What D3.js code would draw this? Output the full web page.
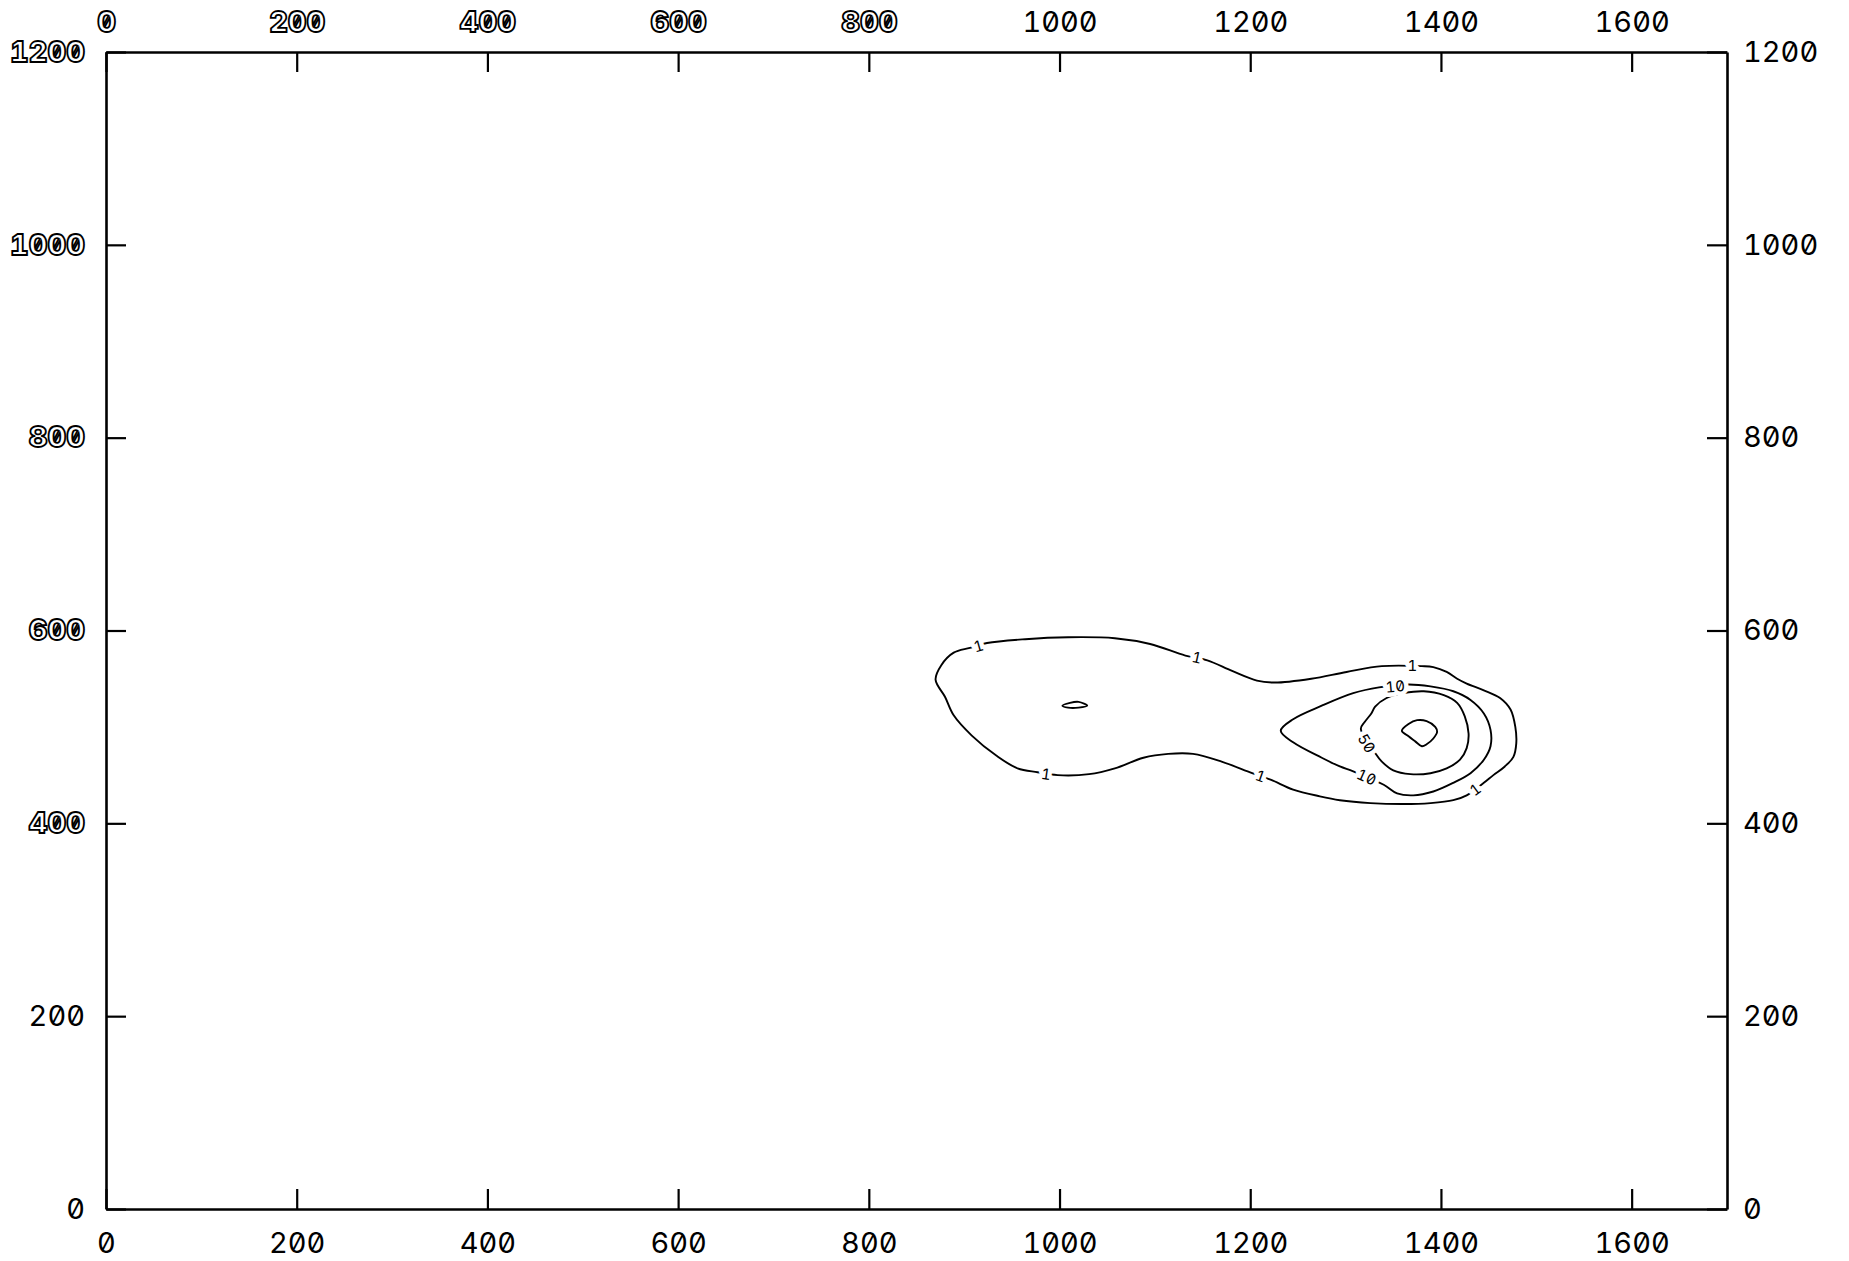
<!DOCTYPE html>
<html lang="ko">
<head>
<meta charset="utf-8">
<title>contour plot</title>
<script src="https://cdn.jsdelivr.net/npm/d3@7"></script>
<style>
  body { margin: 0; background: #fff; }
  svg { display: block; background: #fff; }
</style>
</head>
<body>
<svg></svg>
<script>
"use strict";

// 축 범위와 눈금값
const xDomain = [0, 1700];
const yDomain = [0, 1200];
const xTicks = [0, 200, 400, 600, 800, 1000, 1200, 1400, 1600];
const yTicks = [0, 200, 400, 600, 800, 1000, 1200];

// 레벨 1 등고선 (바깥쪽 큰 윤곽), 그림에서 읽은 [x, y] 값
const contour1 = [
  [924, 587], [964, 591], [1009, 593], [1058, 592], [1095, 586], [1132, 574],
  [1155, 569], [1181, 558], [1207, 548], [1226, 546], [1264, 550], [1301, 557],
  [1338, 563], [1380, 563], [1392, 562], [1406, 557], [1417, 550], [1427, 545],
  [1445, 538], [1462, 530], [1473, 518], [1478, 500], [1479, 483], [1476, 469],
  [1467, 459], [1455, 450], [1445, 442], [1427, 429], [1413, 424], [1389, 421],
  [1361, 420], [1326, 421], [1294, 424], [1273, 428], [1245, 435], [1222, 445],
  [1202, 452], [1170, 464], [1140, 472], [1114, 472], [1088, 468], [1058, 457],
  [1031, 451], [998, 450], [977, 453], [956, 457], [934, 470], [908, 491],
  [889, 512], [880, 531], [870, 549], [876, 564], [889, 577], [906, 582]
];

// 왼쪽 안에 있는 작은 레벨 1 섬
const contour1Island = [
  [1003, 522], [1011, 525], [1020, 526], [1029, 522], [1020, 520], [1009, 520]
];

// 레벨 10 등고선
const contour10 = [
  [1366, 544], [1389, 542], [1413, 537], [1431, 528], [1445, 514], [1452, 497],
  [1452, 480], [1445, 466], [1431, 452], [1413, 442], [1392, 433], [1371, 429],
  [1354, 431], [1340, 440], [1308, 454], [1294, 459], [1275, 468], [1245, 484],
  [1232, 496], [1245, 508], [1275, 522], [1308, 535], [1335, 541]
];

// 레벨 50 등고선
const contour50 = [
  [1316, 498], [1320, 505], [1327, 514], [1331, 521], [1343, 530], [1361, 535],
  [1382, 537], [1403, 533], [1417, 525], [1425, 511], [1429, 493], [1427, 478],
  [1420, 466], [1406, 457], [1389, 452], [1368, 451], [1350, 455], [1338, 464],
  [1331, 473]
];

// 봉우리 쪽 가장 안쪽 등고선 (라벨 없음)
const contourPeak = [
  [1359, 496], [1366, 503], [1375, 507], [1385, 506], [1394, 500], [1396, 495],
  [1392, 488], [1385, 482], [1380, 480], [1373, 485], [1365, 491]
];

// 등고선 라벨 위치
const labels1 = [[915, 584], [1144, 572], [1370, 564], [1436, 435], [1211, 449], [986, 451]];
const labels10 = [[1352, 542], [1322, 448]];
const labels50 = [[1322, 483]];

const width = 1849;
const height = 1261;

const svg = d3.select("svg").attr("width", width).attr("height", height);

// 데이터 값을 화면 좌표로 바꾸는 스케일
const x = d3.scaleLinear().domain(xDomain).range([106, 1727]);
const y = d3.scaleLinear().domain(yDomain).range([1209, 52]);

const fontFamily = "Inter, 'DejaVu Sans', sans-serif";
const fmt = d3.format("d"); // 천 단위 쉼표 없이

// 축 라벨 공통 스타일. 몇몇 라벨은 스캔본처럼 속이 빈 굵은 글씨로
function styleAxis(g, hollow) {
  g.attr("font-family", fontFamily).attr("font-size", 29);
  g.select(".domain").attr("stroke", "#000").attr("stroke-width", 2.6);
  g.selectAll(".tick line").attr("stroke", "#000").attr("stroke-width", 2.2);
  g.selectAll(".tick text")
    .attr("fill", (d) => (hollow(d) ? "#fff" : "#000"))
    .attr("stroke", (d) => (hollow(d) ? "#000" : "none"))
    .attr("stroke-width", 1.8)
    .attr("font-weight", (d) => (hollow(d) ? 800 : 400))
    .style("font-variant-numeric", "tabular-nums slashed-zero")
    .style("font-feature-settings", "'tnum' 1, 'zero' 1");
}

svg.append("g")
  .attr("transform", `translate(0,${y(0)})`)
  .call(d3.axisBottom(x).tickValues(xTicks).tickFormat(fmt).tickSizeInner(-20).tickSizeOuter(0).tickPadding(23))
  .call((g) => styleAxis(g, () => false));

svg.append("g")
  .attr("transform", `translate(0,${y(1200)})`)
  .call(d3.axisTop(x).tickValues(xTicks).tickFormat(fmt).tickSizeInner(-20).tickSizeOuter(0).tickPadding(20))
  .call((g) => styleAxis(g, (d) => d <= 800));

svg.append("g")
  .attr("transform", `translate(${x(0)},0)`)
  .call(d3.axisLeft(y).tickValues(yTicks).tickFormat(fmt).tickSizeInner(-20).tickSizeOuter(0).tickPadding(21))
  .call((g) => styleAxis(g, (d) => d >= 400));

svg.append("g")
  .attr("transform", `translate(${x(1700)},0)`)
  .call(d3.axisRight(y).tickValues(yTicks).tickFormat(fmt).tickSizeInner(-20).tickSizeOuter(0).tickPadding(16))
  .call((g) => styleAxis(g, () => false));

// 등고선 그리기
const contourLine = d3.line()
  .x((d) => x(d[0]))
  .y((d) => y(d[1]))
  .curve(d3.curveCatmullRomClosed.alpha(0.5));

const contours = [contour1, contour1Island, contour10, contour50, contourPeak];

svg.append("g")
  .selectAll("path")
  .data(contours)
  .enter()
  .append("path")
  .attr("d", contourLine)
  .attr("fill", "none")
  .attr("stroke", "#000")
  .attr("stroke-width", 1.9)
  .attr("stroke-linejoin", "round");

// 라벨 각도는 라벨에 가장 가까운 선분 방향으로 맞춤
function labelAngle(pts, p) {
  const px = x(p[0]);
  const py = y(p[1]);
  let best = null;
  let bestD = Infinity;
  pts.forEach((a, i) => {
    const b = pts[(i + 1) % pts.length];
    const mx = (x(a[0]) + x(b[0])) / 2;
    const my = (y(a[1]) + y(b[1])) / 2;
    const dd = (mx - px) ** 2 + (my - py) ** 2;
    if (dd < bestD) {
      bestD = dd;
      best = [a, b];
    }
  });
  let ang = (Math.atan2(y(best[1][1]) - y(best[0][1]), x(best[1][0]) - x(best[0][0])) * 180) / Math.PI;
  if (ang > 90) ang -= 180;
  if (ang < -90) ang += 180;
  return ang;
}

const labelSets = [
  { text: "1", line: contour1, pts: labels1 },
  { text: "10", line: contour10, pts: labels10 },
  { text: "50", line: contour50, pts: labels50 }
];

const labelData = [];
labelSets.forEach((s) => {
  s.pts.forEach((p) => labelData.push({ text: s.text, p: p, angle: labelAngle(s.line, p) }));
});

// 흰색 외곽선(paint-order)으로 라벨 자리의 선을 끊어줌
svg.append("g")
  .selectAll("text")
  .data(labelData)
  .enter()
  .append("text")
  .attr("transform", (d) => `translate(${x(d.p[0])},${y(d.p[1])}) rotate(${d.angle})`)
  .attr("text-anchor", "middle")
  .attr("dy", "0.36em")
  .attr("font-family", fontFamily)
  .attr("font-size", 15)
  .style("font-variant-numeric", "tabular-nums slashed-zero")
  .style("font-feature-settings", "'tnum' 1, 'zero' 1")
  .attr("fill", "#000")
  .attr("stroke", "#fff")
  .attr("stroke-width", 9)
  .attr("stroke-linejoin", "round")
  .attr("paint-order", "stroke")
  .text((d) => d.text);
</script>
</body>
</html>
